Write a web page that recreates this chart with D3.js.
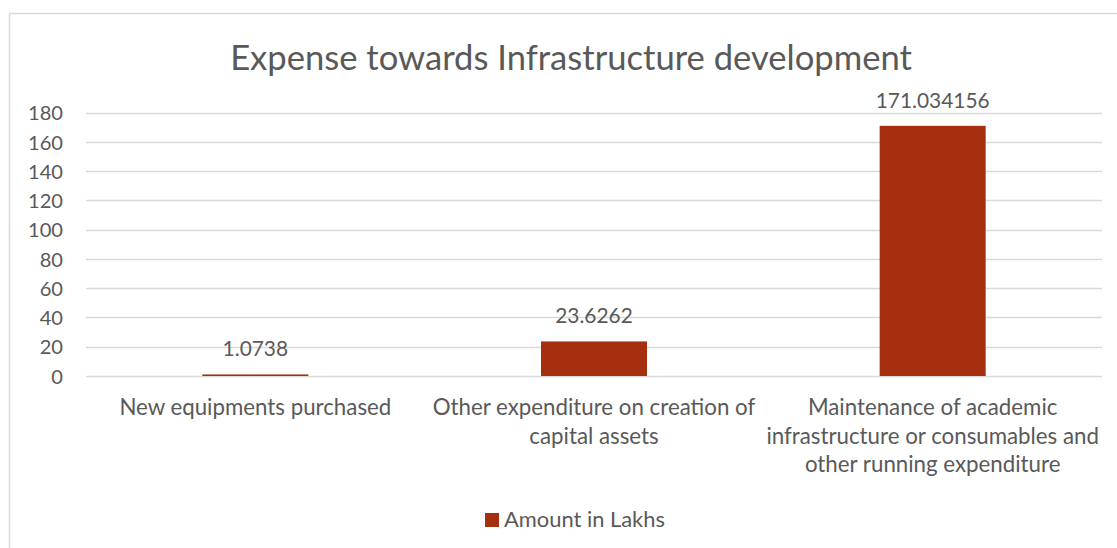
<!DOCTYPE html>
<html>
<head>
<meta charset="utf-8">
<script src="https://cdn.jsdelivr.net/npm/d3@7"></script>
<style>
  html, body { margin: 0; padding: 0; background: #fff; }
  svg { display: block; }
  text { font-family: Lato, "Open Sans", sans-serif; fill: #595959; }
</style>
</head>
<body>
<svg id="chart" width="1117" height="548"></svg>
<script>
// ---- data ----
const categories = [
  "New equipments purchased",
  "Other expenditure on creation of capital assets",
  "Maintenance of academic infrastructure or consumables and other running expenditure"
];
const categoryLines = [
  ["New equipments purchased"],
  ["Other expenditure on creation of", "capital assets"],
  ["Maintenance of academic", "infrastructure or consumables and", "other running expenditure"]
];
const values = [1.0738, 23.6262, 171.034156];
const valueLabels = ["1.0738", "23.6262", "171.034156"];
const yTicks = [0, 20, 40, 60, 80, 100, 120, 140, 160, 180];
const seriesName = "Amount in Lakhs";
const title = "Expense towards Infrastructure development";

// ---- layout ----
const W = 1117, H = 548;
const plot = { left: 86, right: 1102, top: 112.7, bottom: 376 };
const barColor = "#A62F10";
const gridColor = "#D9D9D9";

const svg = d3.select("#chart");

// chart border (left and top visible)
svg.append("rect")
  .attr("x", 9.5).attr("y", 13.5)
  .attr("width", W + 20).attr("height", H + 20)
  .attr("fill", "none").attr("stroke", gridColor).attr("stroke-width", 1.5);

const x = d3.scaleBand().domain(categories).range([plot.left, plot.right]).padding(0);
const y = d3.scaleLinear().domain([0, 180]).range([plot.bottom, plot.top]);
const barW = x.bandwidth() * 0.313;

// helper to fit a font size so that a reference string has a target width
function fitSize(str, target, base) {
  const t = svg.append("text").attr("font-size", base).text(str);
  const w = t.node().getComputedTextLength();
  t.remove();
  return base * target / w;
}
const titleSize = fitSize(title, 682, 30);
const catSize = fitSize(categoryLines[0][0], 272, 20);
const tickSize = fitSize("180", 35, 20);
const labelSize = fitSize("171.034156", 114, 20);
const legendSize = fitSize(seriesName, 161, 20);

// gridlines
svg.append("g")
  .selectAll("line").data(yTicks).join("line")
  .attr("x1", plot.left).attr("x2", plot.right)
  .attr("y1", d => Math.round(y(d)) + 0.5).attr("y2", d => Math.round(y(d)) + 0.5)
  .attr("stroke", gridColor).attr("stroke-width", 1.3);

// y axis labels
const yAxis = d3.axisLeft(y).tickValues(yTicks).tickSize(0).tickPadding(23);
const gy = svg.append("g").attr("transform", `translate(${plot.left},0)`).call(yAxis);
gy.select(".domain").remove();
gy.selectAll("text")
  .attr("font-size", tickSize)
  .attr("font-family", "Lato, 'Open Sans', sans-serif")
  .attr("fill", "#595959")
  .attr("dy", "0.36em");

// bars
svg.append("g").selectAll("rect").data(values).join("rect")
  .attr("x", (d, i) => x(categories[i]) + x.bandwidth() / 2 - barW / 2)
  .attr("width", barW)
  .attr("y", d => y(d))
  .attr("height", d => y(0) - y(d))
  .attr("fill", barColor);

// data labels
svg.append("g").selectAll("text").data(values).join("text")
  .attr("x", (d, i) => x(categories[i]) + x.bandwidth() / 2)
  .attr("y", d => y(d) - 18)
  .attr("text-anchor", "middle")
  .attr("font-size", labelSize)
  .text((d, i) => valueLabels[i]);

// category labels
const cat = svg.append("g").selectAll("text").data(categoryLines).join("text")
  .attr("x", (d, i) => x(categories[i]) + x.bandwidth() / 2)
  .attr("y", 415)
  .attr("text-anchor", "middle")
  .attr("font-size", catSize);
cat.each(function(lines, i) {
  const cx = x(categories[i]) + x.bandwidth() / 2;
  d3.select(this).selectAll("tspan").data(lines).join("tspan")
    .attr("x", cx)
    .attr("dy", (l, j) => j === 0 ? 0 : 28.6)
    .text(l => l);
});

// title
svg.append("text")
  .attr("x", 571).attr("y", 70)
  .attr("text-anchor", "middle")
  .attr("font-size", titleSize)
  .text(title);

// legend
const lg = svg.append("g");
lg.append("rect").attr("x", 485).attr("y", 513).attr("width", 14).attr("height", 14).attr("fill", barColor);
lg.append("text").attr("x", 504).attr("y", 527).attr("font-size", legendSize).text(seriesName);
</script>
</body>
</html>
